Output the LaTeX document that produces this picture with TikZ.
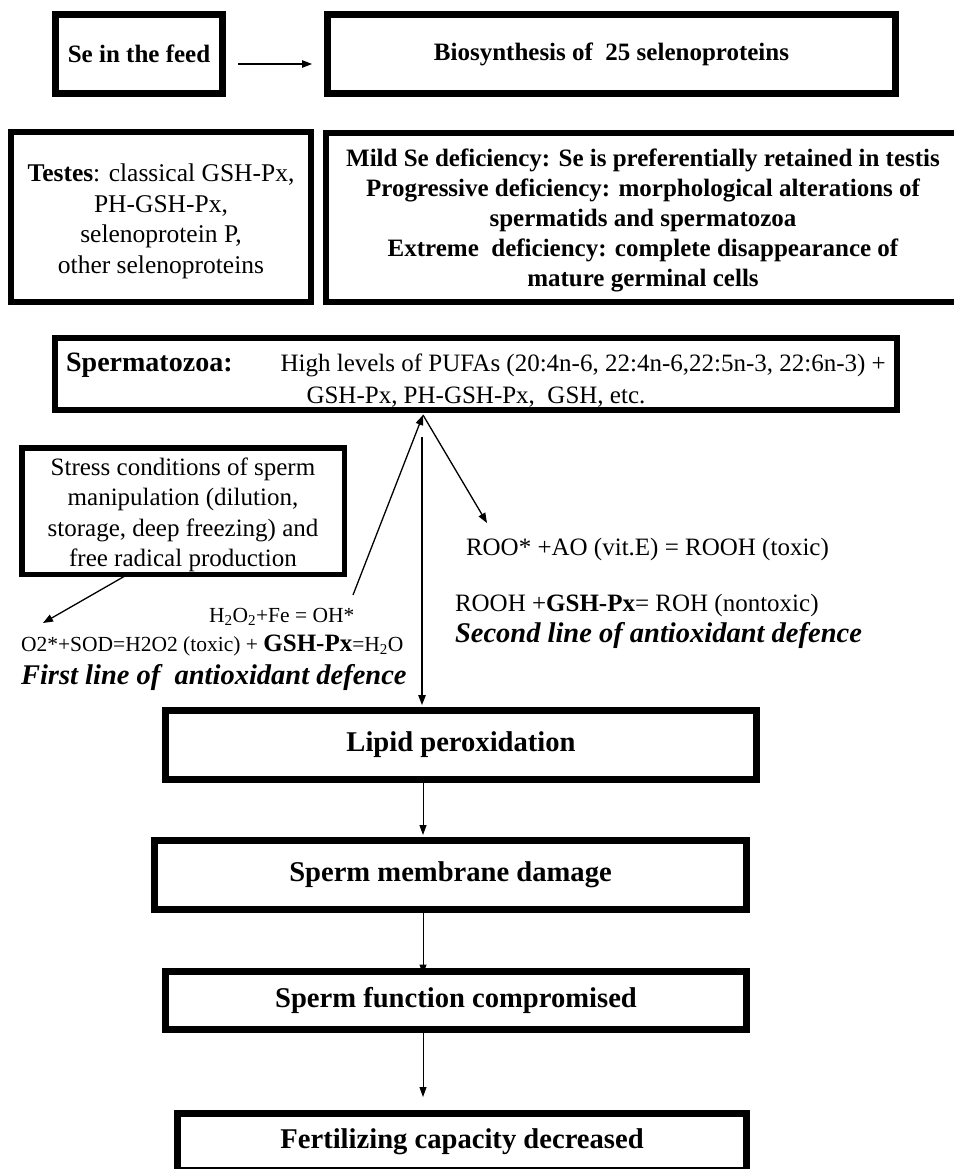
\documentclass[tikz,border=0pt]{standalone}
\usepackage{fontspec}
\setmainfont{Liberation Serif}
\usetikzlibrary{arrows.meta,calc}
\begin{document}
\begin{tikzpicture}[x=1pt,y=-1pt,
  box/.style={draw, rectangle, inner sep=0pt, outer sep=0pt, align=center},
  big/.style={font=\fontsize{28.6}{32}\selectfont\bfseries},
  txt/.style={anchor=base west, inner sep=0pt, outer sep=0pt},
  arr/.style={-{Triangle[length=10pt,width=7.5pt]}, line width=1.3pt},
  thinarr/.style={-{Triangle[length=10pt,width=7pt]}, line width=1pt},
]
\useasboundingbox (0,0) rectangle (953,1169);
% top row
\node[box, line width=7pt, minimum width=167pt, minimum height=79pt,
      font=\fontsize{25}{30}\selectfont\bfseries] (se) at (139,54) {Se in the feed};
\node[box, line width=7pt, minimum width=568pt, minimum height=79pt,
      font=\fontsize{25}{30}\selectfont\bfseries] (bio) at (611.5,54) {Biosynthesis of\ \ 25 selenoproteins};
% second row
\node[box, line width=6pt, minimum width=300pt, minimum height=170pt,
      font=\fontsize{25.5}{30.5}\selectfont] (testes) at (161,217)
  {\rule{0pt}{26pt}\textbf{Testes}: classical GSH-Px,\\ PH-GSH-Px,\\ selenoprotein P,\\ other selenoproteins};
\node[box, line width=6pt, minimum width=634pt, minimum height=169pt,
      font=\fontsize{25}{30}\selectfont\bfseries] (mild) at (643,217.5)
  {\rule{0pt}{24pt}Mild Se deficiency: Se is preferentially retained in testis\\
   Progressive deficiency: morphological alterations of\\
   spermatids and spermatozoa\\
   Extreme\ \ deficiency: complete disappearance of\\
   mature germinal cells};
% spermatozoa
\node[box, line width=6pt, minimum width=842pt, minimum height=72pt,
      font=\fontsize{25}{32}\selectfont] (sperm) at (476,374)
  {\rule{0pt}{30pt}{\fontsize{28}{32}\selectfont\bfseries Spermatozoa:}\hspace{48pt}High levels of PUFAs (20:4n-6, 22:4n-6,22:5n-3, 22:6n-3) +\\
   GSH-Px, PH-GSH-Px,\ \ GSH, etc.};
% stress
\node[box, line width=5.5pt, minimum width=322.5pt, minimum height=126.5pt,
      font=\fontsize{25}{30.5}\selectfont] (stress) at (183,511)
  {\rule{0pt}{25pt}Stress conditions of sperm\\ manipulation (dilution,\\ storage, deep freezing) and\\ free radical production};
% reaction texts
\node[txt, font=\fontsize{21.5}{24}\selectfont] (h2o2) at (209,622) {H\textsubscript{2}O\textsubscript{2}+Fe = OH*};
\node[txt, font=\fontsize{21.5}{24}\selectfont] (o2) at (21,651)
  {O2*+SOD=H2O2 (toxic) + {\fontsize{25}{28}\selectfont\bfseries GSH-Px}=H\textsubscript{2}O};
\node[txt, font=\fontsize{28.5}{32}\selectfont\bfseries\itshape] (first) at (21,684) {First line of\ \ antioxidant defence};
\node[txt, font=\fontsize{25}{28}\selectfont] (roo) at (466,555) {ROO* +AO (vit.E) = ROOH (toxic)};
\node[txt, font=\fontsize{25}{28}\selectfont] (rooh) at (455,611) {ROOH +\textbf{GSH-Px}= ROH (nontoxic)};
\node[txt, font=\fontsize{28.5}{32}\selectfont\bfseries\itshape] (second) at (455,642) {Second line of antioxidant defence};
% lower chain
\node[box, big, line width=7pt, minimum width=591pt, minimum height=69pt] (lipid) at (461,745) {Lipid peroxidation};
\node[box, big, line width=7pt, minimum width=592pt, minimum height=69pt] (membrane) at (450.5,875) {Sperm membrane damage};
\node[box, big, line width=7pt, minimum width=581pt, minimum height=58pt] (function) at (456,1000.5) {Sperm function compromised};
\node[box, big, line width=7pt, minimum width=569pt, minimum height=57pt] (fert) at (462,1142) {Fertilizing capacity decreased};
% coordinates
\coordinate (apex) at (423,415);
\coordinate (o2tip) at (43,623);
\coordinate (h2start) at (353,595);
\coordinate (rootip) at (487,523);
\coordinate (vtop) at (422,437);
\coordinate (vx) at (423,0);
% connectors
\draw[arr] ($(se.east)+(15.5,10)$) -- ($(bio.west)+(-15.5,10)$);
\draw[arr] ($(stress.south)+(-55,0)$) -- (o2tip);
\draw[arr] (h2start) -- (apex);
\draw[arr] (apex) -- (rootip);
\draw[arr] (vtop) -- ($(lipid.north -| vtop)+(0,-5.5)$);
\draw[thinarr] (lipid.south -| vx) -- ($(membrane.north -| vx)+(0,-5.5)$);
\draw[thinarr] (membrane.south -| vx) -- ($(function.north -| vx)+(0,3)$);
\draw[thinarr] (function.south -| vx) -- ($(fert.north -| vx)+(0,-16.5)$);
\end{tikzpicture}
\end{document}
